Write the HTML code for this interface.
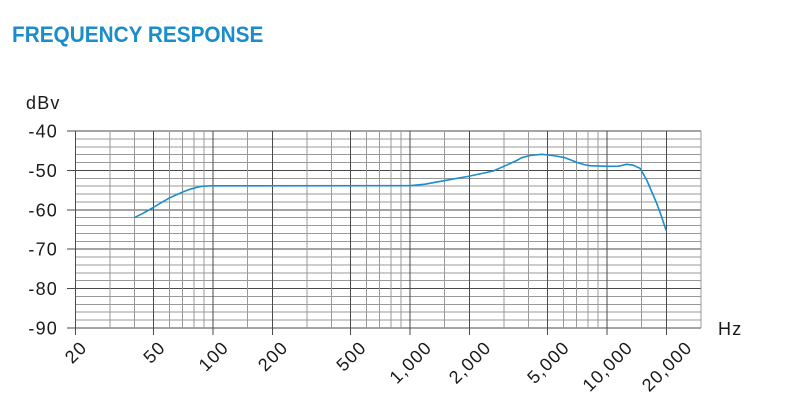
<!DOCTYPE html>
<html>
<head>
<meta charset="utf-8">
<style>
  html, body { margin:0; padding:0; background:#fff; }
  body { width:800px; height:413px; overflow:hidden; position:relative; }
  svg { position:absolute; left:0; top:0; }
  .lbl { font-family:"Liberation Sans", sans-serif; font-size:18px; letter-spacing:1.2px; fill:#1a1a1a; }
  .title { font-family:"Liberation Sans", sans-serif; font-size:22px; font-weight:bold; fill:#1b8dcb; }
</style>
</head>
<body>
<svg width="800" height="413" viewBox="0 0 800 413" xmlns="http://www.w3.org/2000/svg">
  <text class="title" x="12" y="42" transform="translate(12 0) scale(0.945 1) translate(-12 0)">FREQUENCY RESPONSE</text>

  <g id="grid" shape-rendering="crispEdges">
  </g>

  <text class="lbl" x="26" y="109">dBv</text>
  <g class="lbl" text-anchor="end">
    <text x="58" y="137.5">-40</text>
    <text x="58" y="176.9">-50</text>
    <text x="58" y="216.3">-60</text>
    <text x="58" y="255.7">-70</text>
    <text x="58" y="295.1">-80</text>
    <text x="58" y="334.5">-90</text>
  </g>
  <text class="lbl" x="718" y="335">Hz</text>

  <g class="lbl" text-anchor="middle" id="xl"></g>

  <polyline fill="none" stroke="#1b8dcf" stroke-width="1.6" stroke-linejoin="round" stroke-linecap="round"
    points="135,217.3 143,213.3 153.3,207.5 162,202.2 170,197.7 177,194.5 183.3,191.8 190,189.3 196.7,187.4 202,186.3 207,185.9 215,185.8 410,185.7 425,184.2 443.3,180.8 470,176 493.3,171 505,165.8 516.7,160.5 521.7,157.7 530,155.5 541.7,154.3 548.3,155 556,156 565,157.7 576.7,162.3 584,164.6 590,165.7 606.7,166.3 618.3,166.3 622,165.4 626.7,164.3 633.3,165.2 640,168.3 646.7,180 651,190 656.7,203.3 661,215 666,230"/>
</svg>
<script>
(function(){
  var ns="http://www.w3.org/2000/svg";
  var g=document.getElementById('grid');
  function X(f){return 75.3+197*Math.log10(f/20);}
  function line(x1,y1,x2,y2,c){var l=document.createElementNS(ns,'line');l.setAttribute('x1',x1);l.setAttribute('y1',y1);l.setAttribute('x2',x2);l.setAttribute('y2',y2);l.setAttribute('stroke',c);l.setAttribute('stroke-width','1');g.appendChild(l);}
  var top=131, bot=328, right=701;
  for(var k=0;k<=25;k++){
    var y=top+k*(bot-top)/25;
    if(k%5===0) line(67,y,right,y,'#4a4a4a');
    else line(75,y,right,y,'#999');
  }
  var minors=[30,40,60,70,80,90,150,300,400,600,700,800,900,1500,3000,4000,6000,7000,8000,9000,15000];
  minors.forEach(function(f){var x=X(f);line(x,top,x,bot,'#999');});
  line(right,top,right,bot,'#999');
  var majors=[20,50,100,200,500,1000,2000,5000,10000,20000];
  majors.forEach(function(f){var x=X(f);line(x,top,x,335,'#4a4a4a');});
  var xl=document.getElementById('xl');
  var labs=[[20,'20'],[50,'50'],[100,'100'],[200,'200'],[500,'500'],[1000,'1,000'],[2000,'2,000'],[5000,'5,000'],[10000,'10,000'],[20000,'20,000']];
  labs.forEach(function(p){
    var s=p[1];var w=0;
    for(var i=0;i<s.length;i++){w+=(s[i]===','?5.0:10.0)+1.2;}
    var cx=X(p[0]);var cy=340+0.3535*(w+12.8);
    var t=document.createElementNS(ns,'text');
    t.setAttribute('x',cx+0.6);t.setAttribute('y',cy+6.4);
    t.setAttribute('transform','rotate(-45 '+cx+' '+cy+')');
    t.textContent=s;xl.appendChild(t);
  });
})();
</script>
</body>
</html>
